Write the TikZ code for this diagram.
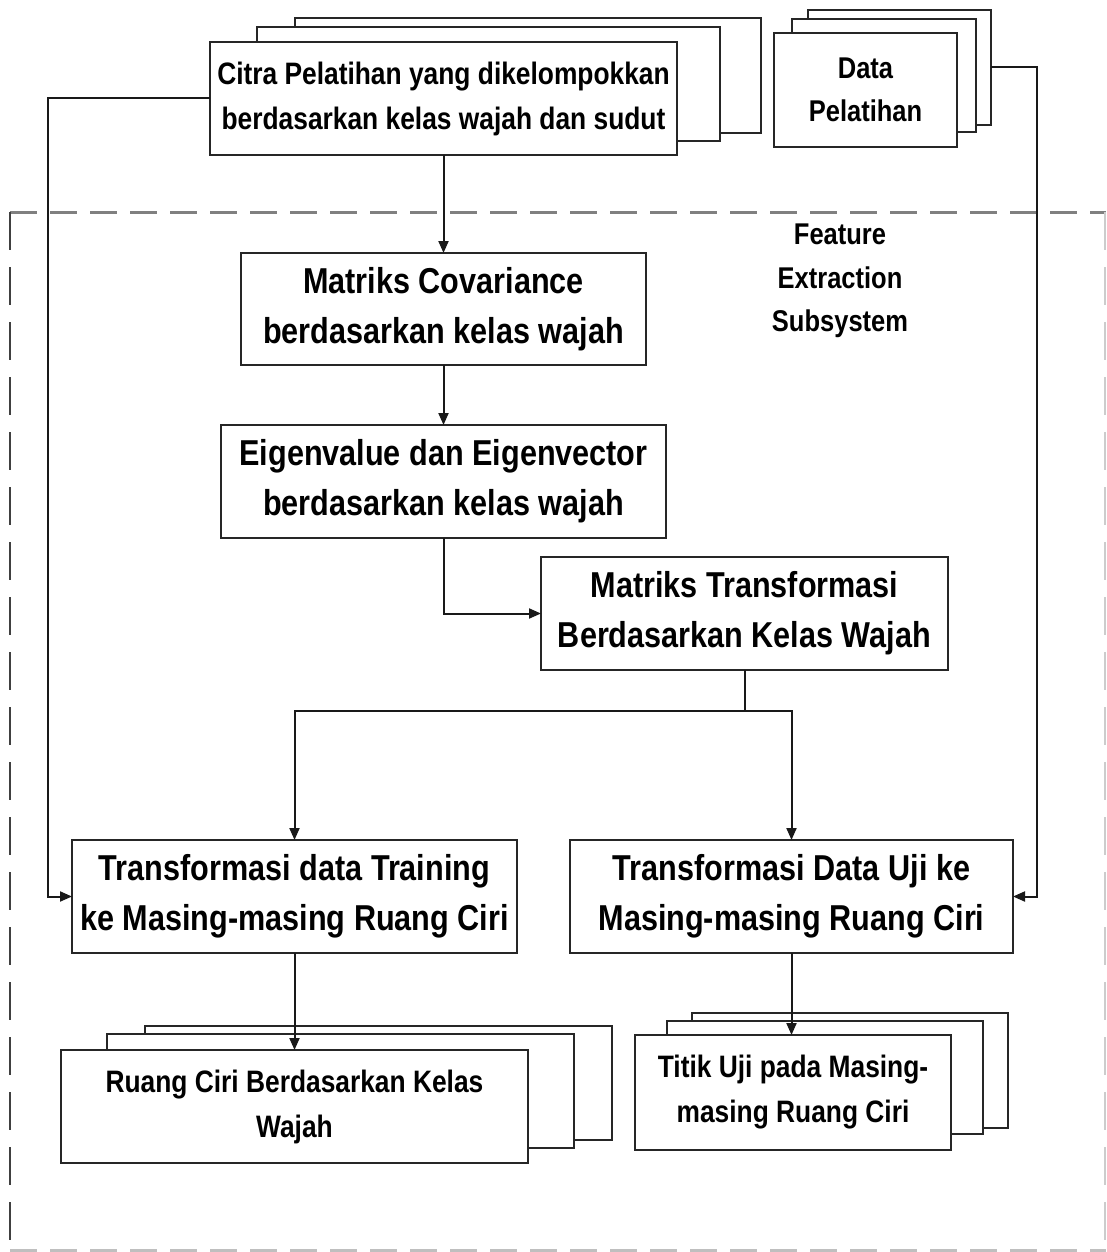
\documentclass[tikz,border=0pt]{standalone}
\usepackage{fontspec}
\setmainfont{Liberation Sans}[FakeStretch=0.85]
\usetikzlibrary{arrows.meta}
\begin{document}
\begin{tikzpicture}[x=1pt,y=-1pt,
  box/.style={draw=black!85, line width=2pt, fill=white, rectangle,
    inner sep=0pt, outer sep=0pt, align=center, font=\bfseries},
  sized/.style 2 args={minimum width=#1pt, minimum height=#2pt},
  big/.style={font=\bfseries\fontsize{36}{50}\selectfont},
  mid/.style={font=\bfseries\fontsize{31}{45}\selectfont},
  small/.style={font=\bfseries\fontsize{30}{43.5}\selectfont},
  conn/.style={draw=black!90, line width=2pt},
  arr/.style={conn, -{Triangle[length=12pt,width=10pt]}},
  frameh/.style={draw=black!50, line width=3pt, dash pattern=on 27pt off 13pt},
  framev/.style={draw=black!75, line width=2pt, dash pattern=on 38pt off 17pt},
]
\useasboundingbox (0,0) rectangle (1106,1252);

% subsystem frame
\draw[frameh] (10,212) -- (1106,212);
\draw[framev] (10,212) -- (10,1250);
\draw[frameh, draw=black!25] (10,1250) -- (1106,1250);
\draw[framev, draw=black!20, line width=1.5pt] (1105,212) -- (1105,1250);

\node[small, align=center] (fes) at (840,281) {Feature\\Extraction\\Subsystem};

% training images stack
\node[box, sized={466}{115}] (cit3) at (528,75.5) {};
\node[box, sized={463}{114}] (cit2) at (488.5,84) {};
\node[box, mid, sized={467}{113}] (cit) at (443.5,98.5)
  {Citra Pelatihan yang dikelompokkan\\berdasarkan kelas wajah dan sudut};

% training data stack
\node[box, sized={183}{115}] (dat3) at (899.5,67.5) {};
\node[box, sized={184}{113}] (dat2) at (884,75.5) {};
\node[box, small, sized={183}{114}] (dat) at (865.5,90) {Data\\Pelatihan};

% processing steps
\node[box, big, sized={405}{112}] (cov) at (443.5,309)
  {Matriks Covariance\\berdasarkan kelas wajah};
\node[box, big, sized={445}{113}] (eig) at (443.5,481.5)
  {Eigenvalue dan Eigenvector\\berdasarkan kelas wajah};
\node[box, big, sized={407}{113}] (mt) at (744.5,613.5)
  {Matriks Transformasi\\Berdasarkan Kelas Wajah};
\node[box, big, sized={445}{113}] (tr) at (294.5,896.5)
  {Transformasi data Training\\ke Masing-masing Ruang Ciri};
\node[box, big, sized={443}{113}] (uj) at (791.5,896.5)
  {Transformasi Data Uji ke\\Masing-masing Ruang Ciri};

% feature space stack
\node[box, sized={467}{114}] (rc3) at (378.5,1083) {};
\node[box, sized={467}{114}] (rc2) at (340.5,1091) {};
\node[box, mid, sized={467}{113}] (rc) at (294.5,1106.5)
  {Ruang Ciri Berdasarkan Kelas\\Wajah};

% test point stack
\node[box, sized={316}{115}] (tt3) at (850,1070.5) {};
\node[box, sized={316}{113}] (tt2) at (825,1077.5) {};
\node[box, mid, sized={316}{115}] (tt) at (793,1092.5)
  {Titik Uji pada Masing-\\masing Ruang Ciri};

% connectors
\coordinate (lbus) at (48,0);
\coordinate (rbus) at (1037,0);
\coordinate (split) at (744.5,711);

\draw[arr] (cit) -- (cov);
\draw[arr] (cov) -- (eig);
\draw[arr] (eig.south) |- (mt.west);
\draw[conn] (mt.south) -- (split);
\draw[arr] (split) -| (tr.north);
\draw[arr] (split) -| (uj.north);
\draw[arr] (tr.south) -- (rc.north);
\draw[arr] (uj.south) -- (uj.south |- tt.north);
\draw[arr] (cit.west) -- (cit.west -| lbus) -- (lbus |- tr.west) -- (tr.west);
\draw[arr] (dat3.east) -- (dat3.east -| rbus) -- (rbus |- uj.east) -- (uj.east);
\end{tikzpicture}
\end{document}
